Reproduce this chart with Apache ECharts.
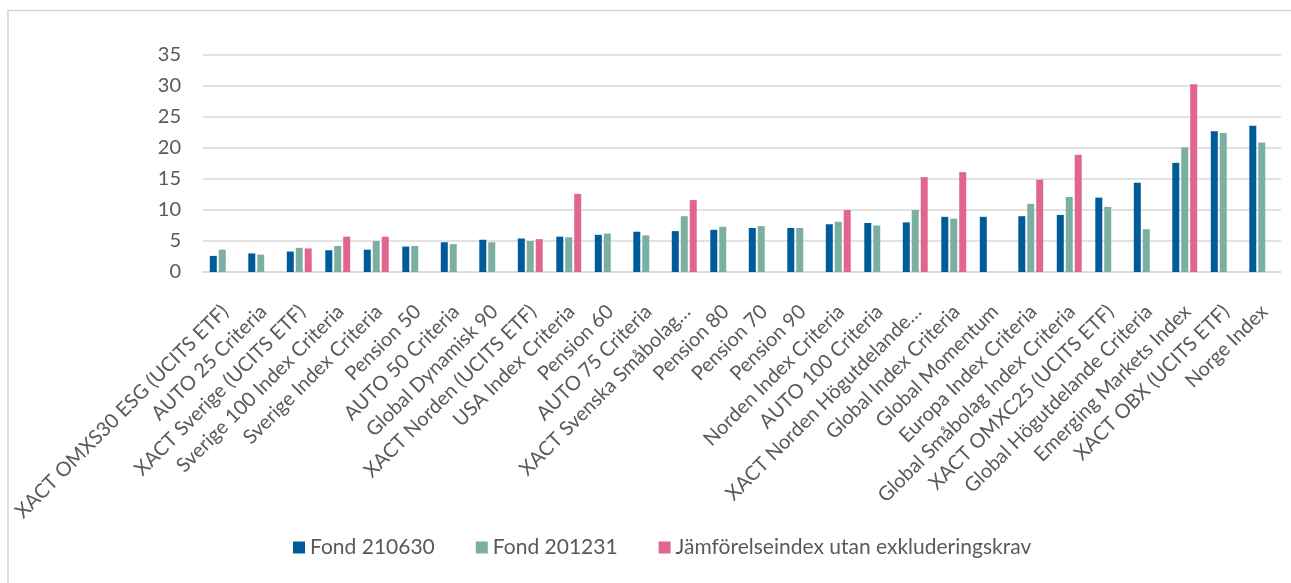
<!DOCTYPE html>
<html>
<head>
<meta charset="utf-8">
<script src="https://cdn.jsdelivr.net/npm/echarts@6/dist/echarts.min.js"></script>
<style>
  html, body { margin: 0; padding: 0; background: #fff; }
  #chart { width: 1291px; height: 583px; }
</style>
</head>
<body>
<div id="chart"></div>
<script>
const categories = [
  'XACT OMXS30 ESG (UCITS ETF)',
  'AUTO 25 Criteria',
  'XACT Sverige (UCITS ETF)',
  'Sverige 100 Index Criteria',
  'Sverige Index Criteria',
  'Pension 50',
  'AUTO 50 Criteria',
  'Global Dynamisk 90',
  'XACT Norden (UCITS ETF)',
  'USA Index Criteria',
  'Pension 60',
  'AUTO 75 Criteria',
  'XACT Svenska Småbolag…',
  'Pension 80',
  'Pension 70',
  'Pension 90',
  'Norden Index Criteria',
  'AUTO 100 Criteria',
  'XACT Norden Högutdelande…',
  'Global Index Criteria',
  'Global Momentum',
  'Europa Index Criteria',
  'Global Småbolag Index Criteria',
  'XACT OMXC25 (UCITS ETF)',
  'Global Högutdelande Criteria',
  'Emerging Markets Index',
  'XACT OBX (UCITS ETF)',
  'Norge Index',
];

const fond210630 = [
  2.6, 3.0, 3.3, 3.5, 3.6, 4.1, 4.8, 5.2, 5.4, 5.7,
  6.0, 6.5, 6.6, 6.8, 7.1, 7.1, 7.7, 7.9, 8.0, 8.9,
  8.9, 9.0, 9.2, 12.0, 14.4, 17.6, 22.7, 23.6,
];

const fond201231 = [
  3.6, 2.8, 3.9, 4.2, 5.0, 4.2, 4.5, 4.8, 5.0, 5.6,
  6.2, 5.9, 9.0, 7.3, 7.4, 7.1, 8.1, 7.5, 10.0, 8.6,
  null, 11.0, 12.1, 10.5, 6.9, 20.1, 22.4, 20.9,
];

const jamforelseindex = [
  null, null, 3.8, 5.7, 5.7, null, null, null, 5.3, 12.6,
  null, null, 11.6, null, null, null, 10.0, null, 15.3, 16.1,
  null, 14.9, 18.9, null, null, 30.3, null, null,
];

const seriesNames = ['Fond 210630', 'Fond 201231', 'Jämförelseindex utan exkluderingskrav'];
const seriesColors = ['#005B99', '#7BAFA2', '#E0658F'];
const yTicks = [0, 5, 10, 15, 20, 25, 30, 35];

const font = 'Lato, "Open Sans", sans-serif';
const textColor = '#595959';

const chart = echarts.init(document.getElementById('chart'), null, { renderer: 'canvas' });

const makeSeries = (name, data, idx) => ({
  name,
  type: 'bar',
  data,
  barWidth: 7,
  barGap: '28%',
  itemStyle: { color: seriesColors[idx] },
  emphasis: { disabled: true },
});

const option = {
  animation: false,
  textStyle: { fontFamily: font },
  graphic: [
    {
      type: 'rect',
      shape: { x: 8, y: 10.5, width: 1300, height: 600 },
      style: { fill: 'none', stroke: '#D4D4D4', lineWidth: 1.5 },
      silent: true,
    },
  ],
  grid: { left: 203, right: 10, top: 55, bottom: 311 },
  legend: {
    data: seriesNames,
    left: 288,
    top: 532,
    itemWidth: 12,
    itemHeight: 12,
    itemGap: 41,
    icon: 'rect',
    textStyle: { fontFamily: font, fontSize: 21, color: textColor },
    selectedMode: false,
  },
  xAxis: {
    type: 'category',
    data: categories,
    axisLine: { show: true, lineStyle: { color: '#D9D9D9', width: 1.5 } },
    axisTick: { show: false },
    axisLabel: {
      interval: 0,
      rotate: 45,
      margin: 25,
      verticalAlign: 'top',
      padding: [0, 6, 0, 0],
      fontFamily: font,
      fontSize: 20,
      color: textColor,
    },
  },
  yAxis: {
    type: 'value',
    min: yTicks[0],
    max: yTicks[yTicks.length - 1],
    interval: 5,
    axisLine: { show: false },
    axisTick: { show: false },
    axisLabel: { margin: 22, fontFamily: font, fontSize: 20, color: textColor },
    splitLine: { lineStyle: { color: '#D9D9D9', width: 1.5 } },
  },
  series: [
    makeSeries(seriesNames[0], fond210630, 0),
    makeSeries(seriesNames[1], fond201231, 1),
    makeSeries(seriesNames[2], jamforelseindex, 2),
  ],
};

chart.setOption(option);
</script>
</body>
</html>
